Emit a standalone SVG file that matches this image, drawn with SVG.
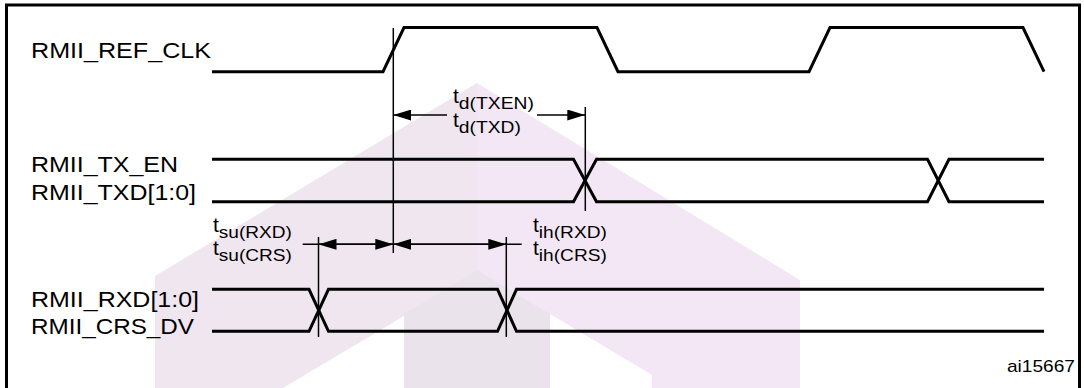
<svg xmlns="http://www.w3.org/2000/svg" width="1084" height="388" viewBox="0 0 1084 388">
<style>
.wave{fill:none;stroke:#000;stroke-width:3;stroke-linejoin:miter}
.thin{fill:none;stroke:#000;stroke-width:1.5}
.lbl{font-family:"Liberation Sans",Arial,sans-serif;font-size:22px;fill:#000}
.t{font-family:"Liberation Sans",Arial,sans-serif;font-size:21px;fill:#000}
.sub{font-family:"Liberation Sans",Arial,sans-serif;font-size:17px;fill:#000}
</style>
<defs>
<marker id="ah" markerUnits="userSpaceOnUse" markerWidth="18" markerHeight="11" refX="18" refY="5.5" orient="auto" viewBox="0 0 18 11">
<path d="M0,0 L18,5.5 L0,11 z" fill="#000"/>
</marker>
</defs>
<g id="watermark">
<polygon points="155,276 477,83 477,388 155,388" fill="#f0e6f0"/>
<polygon points="477,83 800,280 800,388 477,388" fill="#f4e7f5"/>
<polygon points="404,314 477,270 550,314 550,388 404,388" fill="#ebe3eb"/>
<polygon points="283,388 404,316 404,388" fill="#fff"/>
<polygon points="550,314 652,375 652,388 550,388" fill="#fff"/>
</g>
<rect id="frame" x="6.5" y="5" width="1073" height="400" fill="none" stroke="#000" stroke-width="3"/>
<g id="ref_clk">
<text class="lbl" x="31" y="58" textLength="180" lengthAdjust="spacingAndGlyphs">RMII_REF_CLK</text>
<path class="wave" d="M212,71.7 L383,71.7 L404,27.5 L597,27.5 L618,71.7 L809,71.7 L830,27.5 L1023,27.5 L1044,71.7"/>
</g>
<g id="tx">
<text class="lbl" x="31" y="172" textLength="147" lengthAdjust="spacingAndGlyphs">RMII_TX_EN</text>
<text class="lbl" x="31" y="200" textLength="165" lengthAdjust="spacingAndGlyphs">RMII_TXD[1:0]</text>
<path class="wave" d="M212,159.3 H573.5 L596.5,201.7 H927.5 L949,159.3 H1044"/>
<path class="wave" d="M212,201.7 H573.5 L596.5,159.3 H927.5 L949,201.7 H1044"/>
</g>
<g id="rx">
<text class="lbl" x="31" y="307" textLength="168" lengthAdjust="spacingAndGlyphs">RMII_RXD[1:0]</text>
<text class="lbl" x="31" y="334" textLength="163" lengthAdjust="spacingAndGlyphs">RMII_CRS_DV</text>
<path class="wave" d="M212,289.3 H309 L328.5,331.3 H497.5 L516.5,289.3 H1044"/>
<path class="wave" d="M212,331.3 H309 L328.5,289.3 H497.5 L516.5,331.3 H1044"/>
</g>
<g id="td_label">
<text x="453" y="103"><tspan class="t">t</tspan><tspan class="sub" y="109" textLength="75" lengthAdjust="spacingAndGlyphs">d(TXEN)</tspan></text>
<text x="453" y="127"><tspan class="t">t</tspan><tspan class="sub" y="133" textLength="62" lengthAdjust="spacingAndGlyphs">d(TXD)</tspan></text>
</g>
<g id="tsu_label">
<text x="213" y="232"><tspan class="t">t</tspan><tspan class="sub" y="238" textLength="73" lengthAdjust="spacingAndGlyphs">su(RXD)</tspan></text>
<text x="213" y="255"><tspan class="t">t</tspan><tspan class="sub" y="261" textLength="73" lengthAdjust="spacingAndGlyphs">su(CRS)</tspan></text>
</g>
<g id="tih_label">
<text x="533" y="232"><tspan class="t">t</tspan><tspan class="sub" y="238" textLength="68" lengthAdjust="spacingAndGlyphs">ih(RXD)</tspan></text>
<text x="533" y="255"><tspan class="t">t</tspan><tspan class="sub" y="261" textLength="68" lengthAdjust="spacingAndGlyphs">ih(CRS)</tspan></text>
</g>
<text id="fig_id" class="sub" x="1007" y="372" textLength="68" lengthAdjust="spacingAndGlyphs">ai15667</text>
<g id="connectors">
<line class="thin" x1="393.3" y1="28" x2="393.3" y2="253"/>
<line class="thin" x1="585.3" y1="107" x2="585.3" y2="211"/>
<line class="thin" x1="318.5" y1="237" x2="318.5" y2="337"/>
<line class="thin" x1="506.3" y1="237" x2="506.3" y2="337"/>
<line class="thin" x1="447" y1="115" x2="393.3" y2="115" marker-end="url(#ah)"/>
<line class="thin" x1="537" y1="115" x2="585.3" y2="115" marker-end="url(#ah)"/>
<line class="thin" x1="302.7" y1="244.3" x2="521.7" y2="244.3"/>
<line class="thin" x1="355" y1="244.3" x2="318.5" y2="244.3" marker-end="url(#ah)"/>
<line class="thin" x1="355" y1="244.3" x2="393.3" y2="244.3" marker-end="url(#ah)"/>
<line class="thin" x1="450" y1="244.3" x2="393.3" y2="244.3" marker-end="url(#ah)"/>
<line class="thin" x1="450" y1="244.3" x2="506.3" y2="244.3" marker-end="url(#ah)"/>
</g>
</svg>
